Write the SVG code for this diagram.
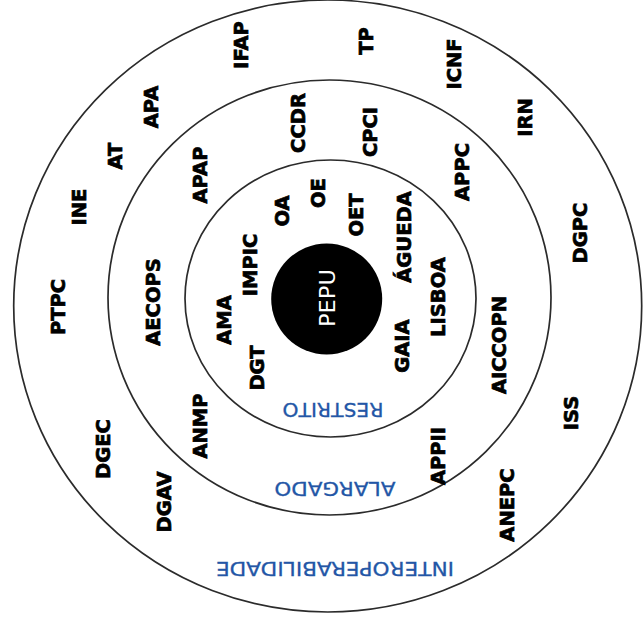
<svg xmlns="http://www.w3.org/2000/svg" width="644" height="629" viewBox="0 0 644 629">
<style>
.ring{fill:none;stroke:#2b2b2b;stroke-width:1.7}
.b{font-family:"DejaVu Sans","Liberation Sans",sans-serif;font-weight:bold;font-size:19.5px;fill:#000;stroke:#000;stroke-width:0.7;text-anchor:middle}
.z{font-family:"DejaVu Sans","Liberation Sans",sans-serif;font-size:20px;fill:#2356a6;stroke:#2356a6;stroke-width:0.3;text-anchor:middle}
.w{font-family:"DejaVu Sans","Liberation Sans",sans-serif;font-size:22px;fill:#fff;text-anchor:middle}
</style>
<rect width="644" height="629" fill="#fff"/>
<g id="rings">
<ellipse class="ring" cx="327.7" cy="306" rx="314" ry="306"/>
<ellipse class="ring" cx="329.5" cy="297.5" rx="221.5" ry="217.5"/>
<ellipse class="ring" cx="330.5" cy="298.5" rx="145.5" ry="138.5"/>
</g>
<g id="zone-labels">
<text class="z" x="333" y="417.2" transform="rotate(180 333 410)" textLength="101" lengthAdjust="spacingAndGlyphs">RESTRITO</text>
<text class="z" x="335" y="496.2" transform="rotate(180 335 489)" textLength="121" lengthAdjust="spacingAndGlyphs">ALARGADO</text>
<text class="z" x="335" y="576.2" transform="rotate(180 335 569)" textLength="238" lengthAdjust="spacingAndGlyphs">INTEROPERABILIDADE</text>
</g>
<g id="PEPU">
<circle cx="326.7" cy="299" r="55.5" fill="#000"/>
<text class="w" x="326.5" y="306" transform="rotate(-90 326.5 298)" textLength="58" lengthAdjust="spacingAndGlyphs">PEPU</text>
</g>
<g id="IFAP"><text class="b" x="241" y="52.1" transform="rotate(-90 241 45)">IFAP</text></g>
<g id="TP"><text class="b" x="366" y="48.1" transform="rotate(-90 366 41)">TP</text></g>
<g id="ICNF"><text class="b" x="454" y="71.1" transform="rotate(-90 454 64)">ICNF</text></g>
<g id="APA"><text class="b" x="151" y="114.1" transform="rotate(-90 151 107)">APA</text></g>
<g id="CCDR"><text class="b" x="298" y="130.1" transform="rotate(-90 298 123)">CCDR</text></g>
<g id="IRN"><text class="b" x="525" y="124.6" transform="rotate(-90 525 117.5)">IRN</text></g>
<g id="AT"><text class="b" x="115" y="163.1" transform="rotate(-90 115 156)">AT</text></g>
<g id="CPCI"><text class="b" x="370" y="139.1" transform="rotate(-90 370 132)">CPCI</text></g>
<g id="APPC"><text class="b" x="462" y="179.1" transform="rotate(-90 462 172)">APPC</text></g>
<g id="APAP"><text class="b" x="200" y="182.1" transform="rotate(-90 200 175)">APAP</text></g>
<g id="INE"><text class="b" x="79" y="214.1" transform="rotate(-90 79 207)">INE</text></g>
<g id="OA"><text class="b" x="282" y="218.1" transform="rotate(-90 282 211)">OA</text></g>
<g id="OE"><text class="b" x="318" y="200.1" transform="rotate(-90 318 193)">OE</text></g>
<g id="OET"><text class="b" x="356" y="222.1" transform="rotate(-90 356 215)">OET</text></g>
<g id="AGUEDA"><text class="b" x="404" y="244.1" transform="rotate(-90 404 237)">ÁGUEDA</text></g>
<g id="DGPC"><text class="b" x="580" y="240.1" transform="rotate(-90 580 233)">DGPC</text></g>
<g id="IMPIC"><text class="b" x="250" y="272.1" transform="rotate(-90 250 265)">IMPIC</text></g>
<g id="AECOPS"><text class="b" x="153" y="309.1" transform="rotate(-90 153 302)">AECOPS</text></g>
<g id="PTPC"><text class="b" x="57.5" y="314.1" transform="rotate(-90 57.5 307)">PTPC</text></g>
<g id="AMA"><text class="b" x="224" y="327.1" transform="rotate(-90 224 320)">AMA</text></g>
<g id="LISBOA"><text class="b" x="438" y="304.1" transform="rotate(-90 438 297)">LISBOA</text></g>
<g id="AICCOPN"><text class="b" x="499" y="352.1" transform="rotate(-90 499 345)">AICCOPN</text></g>
<g id="DGT"><text class="b" x="257" y="375.1" transform="rotate(-90 257 368)">DGT</text></g>
<g id="GAIA"><text class="b" x="402" y="353.1" transform="rotate(-90 402 346)">GAIA</text></g>
<g id="ANMP"><text class="b" x="200" y="433.1" transform="rotate(-90 200 426)">ANMP</text></g>
<g id="DGEC"><text class="b" x="103" y="456.1" transform="rotate(-90 103 449)">DGEC</text></g>
<g id="ISS"><text class="b" x="571" y="420.1" transform="rotate(-90 571 413)">ISS</text></g>
<g id="APPII"><text class="b" x="438" y="463.1" transform="rotate(-90 438 456)">APPII</text></g>
<g id="DGAV"><text class="b" x="164" y="509.1" transform="rotate(-90 164 502)">DGAV</text></g>
<g id="ANEPC"><text class="b" x="507" y="512.1" transform="rotate(-90 507 505)">ANEPC</text></g>
<g id="connectors"></g>
</svg>
